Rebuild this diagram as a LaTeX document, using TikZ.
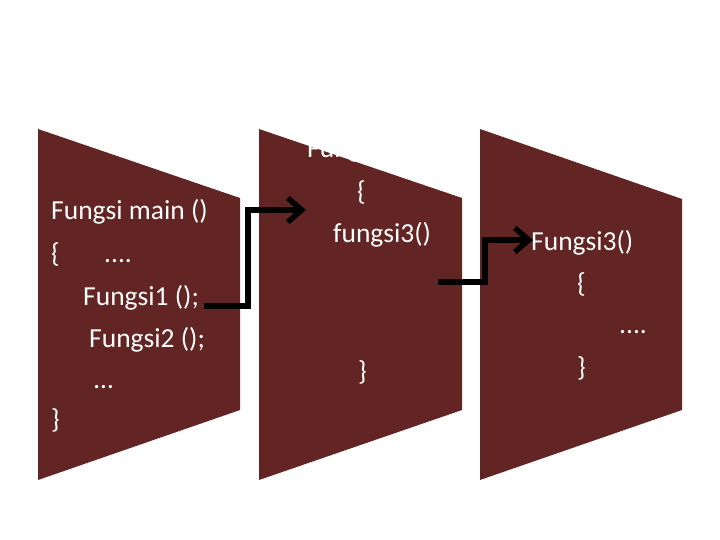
\documentclass[tikz,border=0pt]{standalone}
\usepackage{fontspec}
\setmainfont{Carlito}
\usetikzlibrary{arrows.meta}
\definecolor{maroon}{RGB}{99,37,35}
\tikzset{
  panel/.style={fill=maroon, draw=none},
  code/.style={anchor=base west, inner sep=0pt, text=white, font=\fontsize{27.5}{32}\selectfont},
  call/.style={line width=5.5pt, -{Straight Barb[length=14pt,width=24pt]}, black}
}
\begin{document}
\begin{tikzpicture}[x=1pt,y=-1pt]
\useasboundingbox (0,0) rectangle (720,540);
% panels
\fill[panel] (38,129) -- (240,198) -- (240,410) -- (38,480) -- cycle;
\fill[panel] (259,129) -- (462,198) -- (462,410) -- (259,480) -- cycle;
\fill[panel] (480,129) -- (682,199) -- (682,410) -- (480,480) -- cycle;
% panel 1 text
\node[code] (m1) at (51,220) {Fungsi main ()};
\node[code] (m2) at (51,262) {\{};
\node[code] (m3) at (104,262) {....};
\node[code] (m4) at (83,305) {Fungsi1 ();};
\node[code] (m5) at (89,347) {Fungsi2 ();};
\node[code] (m6) at (94,388) {…};
\node[code] (m7) at (51,428) {\}};
% panel 2 text
\node[code] (f1) at (307,158) {Fungsi2()};
\node[code] (f2) at (357,201) {\{};
\node[code] (f3) at (333,243) {fungsi3()};
\node[code] (f4) at (358,380) {\}};
% panel 3 text
\node[code] (g1) at (531,250) {Fungsi3()};
\node[code] (g2) at (577,292) {\{};
\node[code] (g3) at (619,333) {....};
\node[code] (g4) at (577,376) {\}};
% connectors
\coordinate (a0) at (204,306);
\coordinate (a1) at (306,210);
\coordinate (b0) at (438,282);
\coordinate (b1) at (533,240);
\draw[call] (a0) -- (248,306) -- (248,210) -- (a1);
\draw[call] (b0) -- (485,282) -- (485,240) -- (b1);
\end{tikzpicture}
\end{document}
